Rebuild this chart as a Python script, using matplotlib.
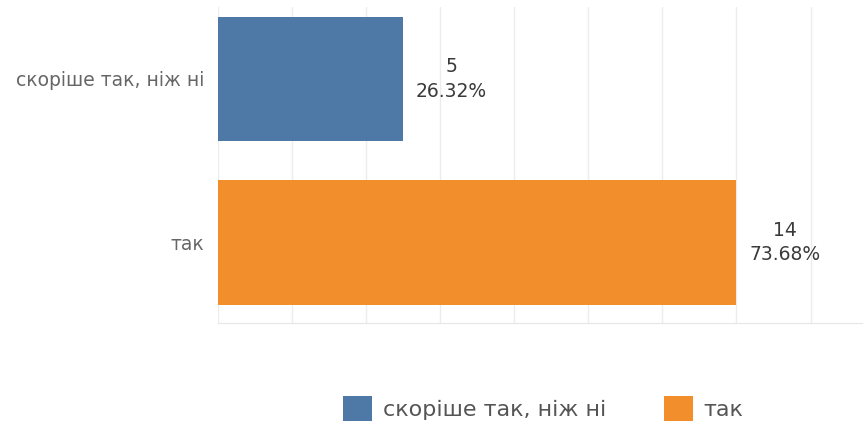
import matplotlib.pyplot as plt
from matplotlib.patches import Patch

categories = ['скоріше так, ніж ні', 'так']
counts = [5, 14]
percents = ['26.32%', '73.68%']
colors = ['#4e79a7', '#f28e2b']

fig = plt.figure(figsize=(8.65, 4.30), dpi=100)
ax = fig.add_axes([0.252, 0.249, 0.745, 0.735])

ypos = list(range(len(categories)))
ax.barh(ypos, counts, height=0.76, color=colors, zorder=2)

# value labels to the right of each bar
for y, c, p in zip(ypos, counts, percents):
    ax.text(c + 1.3, y, f'{c}\n{p}', ha='center', va='center',
            fontsize=13.5, color='#3a3a3a', linespacing=1.35, zorder=3)

ax.set_xlim(0, 17.4)
ax.set_ylim(1.49, -0.44)
ax.set_xticks(range(0, 18, 2))
ax.tick_params(axis='x', length=0, labelbottom=False)
ax.tick_params(axis='y', length=0, pad=10)
ax.set_yticks(ypos)
ax.set_yticklabels(categories, fontsize=13.5, color='#666666')
ax.grid(axis='x', color='#ececec', linewidth=1, zorder=0)
for s in ['top', 'right', 'left']:
    ax.spines[s].set_visible(False)
ax.spines['bottom'].set_color('#e6e6e6')

handles = [Patch(facecolor=col, label=cat) for col, cat in zip(colors, categories)]
fig.legend(handles=handles, loc='center', bbox_to_anchor=(0.628, 0.05), ncol=2,
           frameon=False, fontsize=16, labelcolor='#555555',
           handlelength=1.3, handleheight=1.3, handletextpad=0.5, columnspacing=2.6)

fig.savefig('out.png', dpi=100)
